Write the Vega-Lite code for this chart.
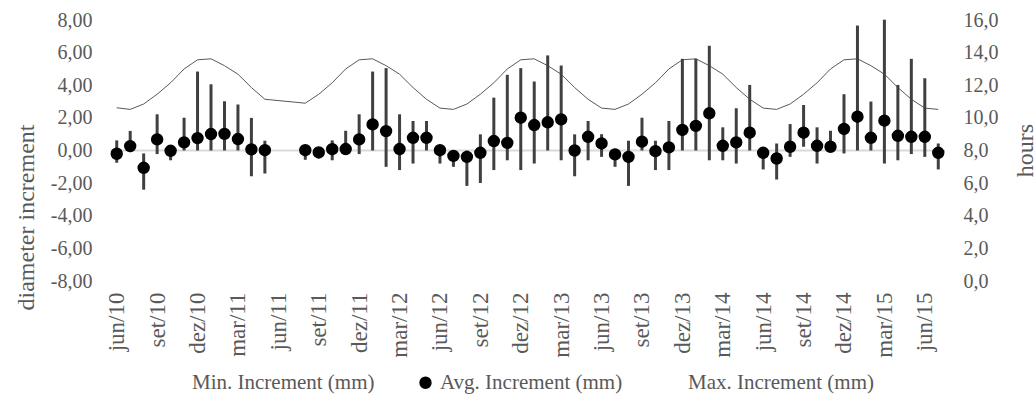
{
  "$schema": "https://vega.github.io/schema/vega-lite/v6.json",
  "width": 835,
  "height": 261,
  "autosize": "none",
  "padding": {"left": 110, "top": 20, "right": 91, "bottom": 122},
  "config": {
    "view": {"stroke": null},
    "font": "Liberation Serif",
    "locale": {"number": {"decimal": ",", "thousands": ".", "grouping": [3], "currency": ["", ""], "minus": "-"}},
    "axis": {"labelFont": "Liberation Serif", "titleFont": "Liberation Serif", "labelColor": "#595959", "titleColor": "#595959", "titleFontWeight": "normal", "domain": false, "ticks": false, "grid": false},
    "legend": {"labelFont": "Liberation Serif", "labelColor": "#595959", "labelFontSize": 21, "labelLimit": 400}
  },
  "data": {"values": [
    {"m": "jun/10", "avg": -0.2, "min": -0.75, "max": 0.62, "hours": 10.62},
    {"m": "jul/10", "avg": 0.27, "min": -0.1, "max": 1.2, "hours": 10.52},
    {"m": "ago/10", "avg": -1.06, "min": -2.4, "max": -0.18, "hours": 10.85},
    {"m": "set/10", "avg": 0.68, "min": -0.22, "max": 2.22, "hours": 11.45},
    {"m": "out/10", "avg": -0.02, "min": -0.6, "max": 0.3, "hours": 12.15},
    {"m": "nov/10", "avg": 0.5, "min": 0.0, "max": 2.01, "hours": 13.0},
    {"m": "dez/10", "avg": 0.76, "min": 0.0, "max": 4.84, "hours": 13.56},
    {"m": "jan/11", "avg": 1.01, "min": 0.0, "max": 4.06, "hours": 13.62},
    {"m": "fev/11", "avg": 1.02, "min": 0.0, "max": 3.02, "hours": 13.2},
    {"m": "mar/11", "avg": 0.7, "min": 0.0, "max": 2.82, "hours": 12.68},
    {"m": "abr/11", "avg": 0.07, "min": -1.58, "max": 2.0, "hours": 11.86},
    {"m": "mai/11", "avg": 0.02, "min": -1.41, "max": 0.6, "hours": 11.14},
    {"m": "ago/11", "avg": 0.02, "min": -0.57, "max": 0.3, "hours": 10.9},
    {"m": "set/11", "avg": -0.12, "min": -0.47, "max": 0.2, "hours": 11.45},
    {"m": "out/11", "avg": 0.08, "min": -0.6, "max": 0.62, "hours": 12.15},
    {"m": "nov/11", "avg": 0.09, "min": 0.0, "max": 1.21, "hours": 13.0},
    {"m": "dez/11", "avg": 0.68, "min": -0.22, "max": 2.22, "hours": 13.56},
    {"m": "jan/12", "avg": 1.6, "min": 0.0, "max": 4.84, "hours": 13.62},
    {"m": "fev/12", "avg": 1.19, "min": -1.0, "max": 5.05, "hours": 13.2},
    {"m": "mar/12", "avg": 0.09, "min": -1.2, "max": 2.22, "hours": 12.68},
    {"m": "abr/12", "avg": 0.78, "min": -0.8, "max": 1.81, "hours": 11.86},
    {"m": "mai/12", "avg": 0.78, "min": 0.0, "max": 1.81, "hours": 11.14},
    {"m": "jun/12", "avg": 0.02, "min": -0.8, "max": 0.3, "hours": 10.6},
    {"m": "jul/12", "avg": -0.33, "min": -1.0, "max": 0.0, "hours": 10.52},
    {"m": "ago/12", "avg": -0.39, "min": -2.17, "max": 0.0, "hours": 10.85},
    {"m": "set/12", "avg": -0.14, "min": -1.99, "max": 0.99, "hours": 11.45},
    {"m": "out/12", "avg": 0.58, "min": -1.2, "max": 3.24, "hours": 12.15},
    {"m": "nov/12", "avg": 0.47, "min": -0.6, "max": 4.64, "hours": 13.0},
    {"m": "dez/12", "avg": 2.01, "min": -1.2, "max": 5.05, "hours": 13.56},
    {"m": "jan/13", "avg": 1.56, "min": -0.8, "max": 4.23, "hours": 13.62},
    {"m": "fev/13", "avg": 1.73, "min": 0.0, "max": 5.83, "hours": 13.2},
    {"m": "mar/13", "avg": 1.91, "min": -0.6, "max": 5.21, "hours": 12.68},
    {"m": "abr/13", "avg": 0.0, "min": -1.58, "max": 0.99, "hours": 11.86},
    {"m": "mai/13", "avg": 0.84, "min": -0.6, "max": 1.81, "hours": 11.14},
    {"m": "jun/13", "avg": 0.43, "min": -0.39, "max": 1.0, "hours": 10.6},
    {"m": "jul/13", "avg": -0.24, "min": -1.0, "max": 0.1, "hours": 10.52},
    {"m": "ago/13", "avg": -0.39, "min": -2.17, "max": 0.6, "hours": 10.85},
    {"m": "set/13", "avg": 0.54, "min": 0.0, "max": 2.01, "hours": 11.45},
    {"m": "out/13", "avg": -0.04, "min": -1.2, "max": 0.6, "hours": 12.15},
    {"m": "nov/13", "avg": 0.19, "min": -1.2, "max": 1.81, "hours": 13.0},
    {"m": "dez/13", "avg": 1.26, "min": 0.0, "max": 5.62, "hours": 13.56},
    {"m": "jan/14", "avg": 1.51, "min": 0.0, "max": 5.62, "hours": 13.62},
    {"m": "fev/14", "avg": 2.28, "min": -0.6, "max": 6.42, "hours": 13.2},
    {"m": "mar/14", "avg": 0.29, "min": -0.6, "max": 1.42, "hours": 12.68},
    {"m": "abr/14", "avg": 0.5, "min": -0.8, "max": 2.59, "hours": 11.86},
    {"m": "mai/14", "avg": 1.09, "min": 0.0, "max": 4.02, "hours": 11.14},
    {"m": "jun/14", "avg": -0.14, "min": -1.16, "max": 0.2, "hours": 10.6},
    {"m": "jul/14", "avg": -0.49, "min": -1.78, "max": 0.43, "hours": 10.52},
    {"m": "ago/14", "avg": 0.23, "min": -0.39, "max": 1.62, "hours": 10.85},
    {"m": "set/14", "avg": 1.09, "min": 0.23, "max": 2.79, "hours": 11.45},
    {"m": "out/14", "avg": 0.29, "min": -0.8, "max": 1.42, "hours": 12.15},
    {"m": "nov/14", "avg": 0.23, "min": 0.0, "max": 1.21, "hours": 13.0},
    {"m": "dez/14", "avg": 1.32, "min": -0.18, "max": 3.45, "hours": 13.56},
    {"m": "jan/15", "avg": 2.07, "min": 0.0, "max": 7.66, "hours": 13.62},
    {"m": "fev/15", "avg": 0.78, "min": 0.0, "max": 3.0, "hours": 13.2},
    {"m": "mar/15", "avg": 1.83, "min": -0.8, "max": 8.02, "hours": 12.68},
    {"m": "abr/15", "avg": 0.9, "min": -0.6, "max": 4.02, "hours": 11.86},
    {"m": "mai/15", "avg": 0.84, "min": -0.22, "max": 5.62, "hours": 11.14},
    {"m": "jun/15", "avg": 0.84, "min": -0.39, "max": 4.43, "hours": 10.6},
    {"m": "jul/15", "avg": -0.14, "min": -1.16, "max": 0.43, "hours": 10.52}
  ]},
  "encoding": {
    "x": {
      "field": "m", "type": "ordinal", "sort": null,
      "scale": {"type": "point", "padding": 0.5, "domain": ["jun/10","jul/10","ago/10","set/10","out/10","nov/10","dez/10","jan/11","fev/11","mar/11","abr/11","mai/11","jun/11","jul/11","ago/11","set/11","out/11","nov/11","dez/11","jan/12","fev/12","mar/12","abr/12","mai/12","jun/12","jul/12","ago/12","set/12","out/12","nov/12","dez/12","jan/13","fev/13","mar/13","abr/13","mai/13","jun/13","jul/13","ago/13","set/13","out/13","nov/13","dez/13","jan/14","fev/14","mar/14","abr/14","mai/14","jun/14","jul/14","ago/14","set/14","out/14","nov/14","dez/14","jan/15","fev/15","mar/15","abr/15","mai/15","jun/15","jul/15"]},
      "axis": {"title": null, "labelAngle": -90, "labelFontSize": 23, "labelPadding": 11, "values": ["jun/10","set/10","dez/10","mar/11","jun/11","set/11","dez/11","mar/12","jun/12","set/12","dez/12","mar/13","jun/13","set/13","dez/13","mar/14","jun/14","set/14","dez/14","mar/15","jun/15"]}
    }
  },
  "layer": [
    {
      "mark": {"type": "line", "color": "#595959", "strokeWidth": 1},
      "encoding": {
        "y": {"field": "hours", "type": "quantitative", "scale": {"domain": [0, 16], "nice": false, "zero": false},
          "axis": {"orient": "right", "title": "hours", "values": [0, 2, 4, 6, 8, 10, 12, 14, 16], "format": ".1f", "labelFontSize": 20, "labelPadding": 18, "titleFontSize": 24, "titleAngle": 270, "titleX": 87, "titleY": 130, "titleBaseline": "alphabetic", "titleAlign": "center"}}
      }
    },
    {
      "layer": [
        {
          "data": {"values": [{"zero": 0}]},
          "mark": {"type": "rule", "color": "#d9d9d9", "strokeWidth": 2},
          "encoding": {
            "x": null,
            "y": {"field": "zero", "type": "quantitative", "scale": {"domain": [-8, 8], "nice": false, "zero": false},
              "axis": {"orient": "left", "title": "diameter increment", "values": [-8, -6, -4, -2, 0, 2, 4, 6, 8], "format": ".2f", "labelFontSize": 20, "labelPadding": 18, "titleFontSize": 24, "titleAngle": 270, "titleX": -77, "titleY": 197, "titleBaseline": "alphabetic", "titleAlign": "center"}}
          }
        },
        {
          "mark": {"type": "rule", "color": "#404040", "strokeWidth": 3},
          "encoding": {
            "y": {"field": "min", "type": "quantitative", "scale": {"domain": [-8, 8], "nice": false, "zero": false},
              "axis": {"orient": "left", "title": "diameter increment", "values": [-8, -6, -4, -2, 0, 2, 4, 6, 8], "format": ".2f", "labelFontSize": 20, "labelPadding": 18, "titleFontSize": 24, "titleAngle": 270, "titleX": -77, "titleY": 197, "titleBaseline": "alphabetic", "titleAlign": "center"}},
            "y2": {"field": "max"}
          }
        },
        {
          "transform": [{"fold": ["min", "avg", "max"], "as": ["series", "value"]}],
          "mark": {"type": "circle", "size": 154, "opacity": 1},
          "encoding": {
            "y": {"field": "value", "type": "quantitative", "scale": {"domain": [-8, 8], "nice": false, "zero": false},
              "axis": {"orient": "left", "title": "diameter increment", "values": [-8, -6, -4, -2, 0, 2, 4, 6, 8], "format": ".2f", "labelFontSize": 20, "labelPadding": 18, "titleFontSize": 24, "titleAngle": 270, "titleX": -77, "titleY": 197, "titleBaseline": "alphabetic", "titleAlign": "center"}},
            "color": {"field": "series", "type": "nominal", "scale": {"domain": ["min", "avg", "max"], "range": ["transparent", "black", "transparent"]},
              "legend": {"title": null, "orient": "none", "direction": "horizontal", "legendX": 57, "legendY": 352, "columnPadding": 40, "symbolSize": 154, "symbolType": "circle", "symbolStrokeWidth": 0, "symbolOpacity": 1, "labelOffset": 4,
                "labelExpr": "datum.label == 'min' ? 'Min. Increment (mm)' : datum.label == 'avg' ? 'Avg. Increment (mm)' : 'Max. Increment (mm)'"}}
          }
        }
      ]
    }
  ],
  "resolve": {"scale": {"y": "independent"}}
}
